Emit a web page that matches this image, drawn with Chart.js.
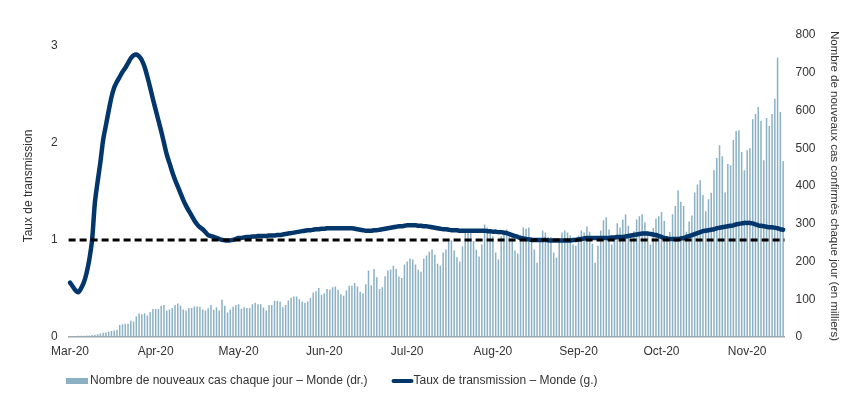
<!DOCTYPE html>
<html>
<head>
<meta charset="utf-8">
<script src="https://cdn.jsdelivr.net/npm/chart.js@4.4.1/dist/chart.umd.min.js"></script>
<style>
  html, body { margin: 0; padding: 0; background: #ffffff; }
  #wrap { width: 861px; height: 397px; }
</style>
</head>
<body>
<div id="wrap"><canvas id="transmissionChart" width="861" height="397"></canvas></div>
<script>
// Nouveaux cas quotidiens, monde (en milliers), du 1er mars au 14 novembre 2020
const newCases = [
    2, 2, 2, 3, 3, 3, 4, 4, 5, 6, 7, 9, 11, 12, 14, 16, 17, 19,
    32, 34, 35, 35, 43, 41, 54, 62, 60, 63, 57, 66, 74, 74, 74, 83, 85, 70, 73, 77,
    85, 89, 83, 73, 70, 77, 77, 81, 81, 80, 73, 70, 76, 85, 72, 79, 70, 99, 83, 65,
    73, 80, 85, 87, 75, 79, 77, 77, 87, 91, 87, 87, 78, 70, 85, 85, 96, 96, 94, 79,
    85, 97, 104, 107, 107, 100, 94, 91, 94, 103, 118, 121, 130, 112, 116, 127, 125, 132, 134, 125,
    113, 109, 123, 136, 136, 143, 134,
    120, 116, 140, 176, 137, 180, 158, 127, 132, 161, 176, 179, 189, 181, 160, 156, 192, 200, 208, 205,
    192, 178, 173, 208, 216, 226, 232, 218, 194, 189, 224, 232, 254, 256, 229, 211, 200, 240, 278, 285,
    284, 254, 231, 213, 245, 298, 290, 280, 267,
    224, 205, 267, 276, 285, 274, 265, 229, 221, 271, 290, 287, 290, 265, 232, 197, 254, 282, 277, 265,
    265, 224, 210, 254, 277, 282, 277, 269, 245, 242, 269, 282, 277, 293, 279, 247, 197, 242, 282, 309,
    317, 285, 245, 258, 301, 290, 311, 325, 295, 258,
    280, 311, 320, 325, 304, 280, 245, 289, 314, 320, 331, 307, 267, 278, 325, 347, 389, 358, 347, 279,
    306, 322, 383, 404, 415, 376, 333, 365, 382, 442, 474, 508, 479, 383, 458, 455, 522, 546, 548, 490,
    442, 495, 500, 577, 591, 609, 572, 468, 580, 559, 591, 631, 740, 596, 466
];

// Taux de transmission (R), monde
const transmissionRate = [
    0.56, 0.52, 0.48, 0.46, 0.50, 0.56, 0.66, 0.80, 1.00, 1.38,
    1.60, 1.80, 2.03, 2.18, 2.33, 2.47, 2.57, 2.63, 2.68, 2.73,
    2.77, 2.82, 2.87, 2.90, 2.91, 2.89, 2.85, 2.78, 2.68, 2.57,
    2.45, 2.34, 2.23, 2.12, 2.00, 1.88, 1.79, 1.70, 1.62, 1.55,
    1.48, 1.41, 1.35, 1.30, 1.25, 1.20, 1.16, 1.13, 1.11, 1.08,
    1.05, 1.04, 1.03, 1.02, 1.01, 1.00, 0.995, 0.995, 0.995, 1.00,
    1.01, 1.02, 1.02, 1.025, 1.03, 1.03, 1.035, 1.035, 1.04, 1.04,
    1.04, 1.04, 1.045, 1.045, 1.045, 1.05, 1.05, 1.055, 1.06, 1.065,
    1.07, 1.075, 1.08, 1.085, 1.09, 1.095, 1.10, 1.10, 1.105, 1.11,
    1.11, 1.115, 1.115, 1.12, 1.12, 1.12, 1.12, 1.12, 1.12, 1.12,
    1.12, 1.12, 1.12, 1.115, 1.11, 1.105, 1.10, 1.095, 1.095, 1.095,
    1.10, 1.10, 1.105, 1.11, 1.115, 1.12, 1.125, 1.13, 1.135, 1.14,
    1.14, 1.145, 1.15, 1.15, 1.15, 1.15, 1.145, 1.145, 1.14, 1.14,
    1.135, 1.13, 1.125, 1.12, 1.115, 1.11, 1.11, 1.105, 1.10, 1.10,
    1.10, 1.095, 1.095, 1.095, 1.095, 1.095, 1.095, 1.095, 1.095, 1.095,
    1.095, 1.09, 1.09, 1.085, 1.085, 1.08, 1.08, 1.075, 1.07, 1.06,
    1.05, 1.04, 1.03, 1.02, 1.015, 1.01, 1.005, 1.00, 1.00, 1.00,
    1.00, 1.00, 1.00, 0.995, 0.995, 0.995, 0.995, 0.995, 0.995, 0.995,
    0.995, 0.995, 0.998, 1.00, 1.005, 1.01, 1.015, 1.02, 1.02, 1.02,
    1.02, 1.02, 1.02, 1.02, 1.02, 1.02, 1.025, 1.025, 1.03, 1.03,
    1.03, 1.035, 1.04, 1.045, 1.05, 1.055, 1.06, 1.065, 1.065, 1.065,
    1.06, 1.055, 1.05, 1.04, 1.03, 1.02, 1.015, 1.01, 1.01, 1.01,
    1.01, 1.015, 1.02, 1.03, 1.04, 1.05, 1.06, 1.07, 1.08, 1.09,
    1.095, 1.10, 1.105, 1.11, 1.12, 1.125, 1.13, 1.135, 1.14, 1.145,
    1.15, 1.16, 1.165, 1.17, 1.175, 1.175, 1.175, 1.17, 1.16, 1.15,
    1.145, 1.14, 1.135, 1.13, 1.13, 1.125, 1.12, 1.11, 1.105
];

// Étiquettes de l'axe des x : index du 1er jour de chaque mois
const monthStarts = [0, 31, 61, 92, 122, 153, 184, 214, 245];
const monthLabels = ['Mar-20', 'Apr-20', 'May-20', 'Jun-20', 'Jul-20', 'Aug-20', 'Sep-20', 'Oct-20', 'Nov-20'];
const leftTicks = [0, 1, 2, 3];
const thresholdValue = 1;

const barLabel = 'Nombre de nouveaux cas chaque jour \u2013 Monde (dr.)';
const lineLabel = 'Taux de transmission \u2013 Monde (g.)';

const BAR_COLOR = '#8db1c4';
const LINE_COLOR = '#03366b';
const TEXT_COLOR = '#333333';
const FONT = 'Liberation Sans, Arial, sans-serif';

// one category per day, starting 1 March 2020
const startDate = new Date(2020, 2, 1);
const days = newCases.map((v, i) => {
    const d = new Date(startDate);
    d.setDate(d.getDate() + i);
    return d.toISOString().slice(0, 10);
});

// Dashed line at R = 1
const thresholdLine = {
    id: 'thresholdLine',
    afterDatasetsDraw(chart) {
        const { ctx, chartArea, scales } = chart;
        const y = scales.y.getPixelForValue(thresholdValue);
        ctx.save();
        ctx.strokeStyle = '#000000';
        ctx.lineWidth = 3;
        ctx.setLineDash([7, 4]);
        ctx.beginPath();
        ctx.moveTo(chartArea.left, y);
        ctx.lineTo(chartArea.right, y);
        ctx.stroke();
        ctx.restore();
    }
};

// Legend under the chart
const bottomLegend = {
    id: 'bottomLegend',
    afterDraw(chart) {
        const ctx = chart.ctx;
        const y = 381;
        ctx.save();
        ctx.font = '12px ' + FONT;
        ctx.textBaseline = 'middle';
        ctx.fillStyle = BAR_COLOR;
        ctx.fillRect(66, y - 3, 22, 6);
        ctx.fillStyle = TEXT_COLOR;
        ctx.fillText(barLabel, 90, y);
        const x2 = 90 + ctx.measureText(barLabel).width + 24;
        ctx.strokeStyle = LINE_COLOR;
        ctx.lineWidth = 4;
        ctx.lineCap = 'round';
        ctx.beginPath();
        ctx.moveTo(x2 + 2, y);
        ctx.lineTo(x2 + 20, y);
        ctx.stroke();
        ctx.fillText(lineLabel, x2 + 22, y);
        ctx.restore();
    }
};

const ctx = document.getElementById('transmissionChart').getContext('2d');

new Chart(ctx, {
    type: 'bar',
    data: {
        labels: days,
        datasets: [
            {
                type: 'line',
                label: lineLabel,
                data: transmissionRate,
                yAxisID: 'y',
                borderColor: LINE_COLOR,
                borderWidth: 4.5,
                borderCapStyle: 'round',
                borderJoinStyle: 'round',
                pointRadius: 0,
                tension: 0.3,
                fill: false,
                order: 1
            },
            {
                type: 'bar',
                label: barLabel,
                data: newCases,
                yAxisID: 'y1',
                backgroundColor: BAR_COLOR,
                borderWidth: 0,
                barPercentage: 0.55,
                categoryPercentage: 1.0,
                order: 2
            }
        ]
    },
    options: {
        responsive: false,
        animation: false,
        layout: { padding: { top: 35, right: 0, bottom: 0, left: 0 } },
        plugins: {
            legend: { display: false },
            tooltip: { enabled: false }
        },
        scales: {
            x: {
                grid: { display: false, drawTicks: false },
                border: { display: true, color: '#a6a6a6', width: 1.5 },
                afterBuildTicks: function (scale) {
                    scale.ticks = monthStarts.map(i => ({ value: i }));
                },
                afterFit: function (scale) {
                    scale.height = 60;
                },
                ticks: {
                    autoSkip: false,
                    maxRotation: 0,
                    minRotation: 0,
                    padding: 7,
                    color: TEXT_COLOR,
                    font: { family: FONT, size: 12 },
                    callback: function (value) {
                        return monthLabels[monthStarts.indexOf(value)];
                    }
                }
            },
            y: {
                position: 'left',
                min: 0,
                max: 3.11,
                grid: { display: false, drawTicks: false },
                border: { display: false },
                afterBuildTicks: function (scale) {
                    scale.ticks = leftTicks.map(v => ({ value: v }));
                },
                afterFit: function (scale) {
                    scale.width = 68.6;
                },
                title: {
                    display: true,
                    text: 'Taux de transmission',
                    color: TEXT_COLOR,
                    font: { family: FONT, size: 12 },
                    padding: { top: 21, bottom: 0 }
                },
                ticks: {
                    padding: 11,
                    color: TEXT_COLOR,
                    font: { family: FONT, size: 12 }
                }
            },
            y1: {
                position: 'right',
                min: 0,
                max: 800,
                grid: { display: false, drawTicks: false },
                border: { display: false },
                afterFit: function (scale) {
                    scale.width = 76.5;
                },
                title: {
                    display: true,
                    text: 'Nombre de nouveaux cas confirmés chaque jour (en milliers)',
                    color: TEXT_COLOR,
                    font: { family: FONT, size: 11.5 },
                    padding: { top: 20, bottom: 0 }
                },
                ticks: {
                    stepSize: 100,
                    padding: 11,
                    color: TEXT_COLOR,
                    font: { family: FONT, size: 12 }
                }
            }
        }
    },
    plugins: [thresholdLine, bottomLegend]
});
</script>
</body>
</html>
